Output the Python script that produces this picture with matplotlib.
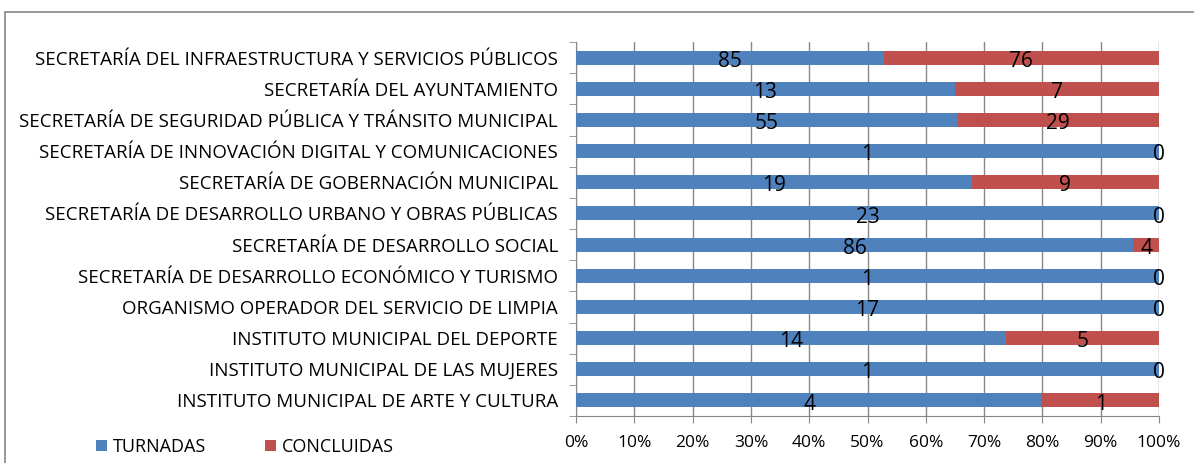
import matplotlib.pyplot as plt
import numpy as np
from matplotlib.ticker import PercentFormatter
from matplotlib import font_manager

# fuente parecida a Calibri
names = {f.name for f in font_manager.fontManager.ttflist}
fam = 'Liberation Sans Narrow' if 'Liberation Sans Narrow' in names else 'Open Sans'
plt.rcParams['font.family'] = [fam, 'DejaVu Sans']

categorias = [
    'SECRETARÍA DEL INFRAESTRUCTURA Y SERVICIOS PÚBLICOS',
    'SECRETARÍA DEL AYUNTAMIENTO',
    'SECRETARÍA DE SEGURIDAD PÚBLICA Y TRÁNSITO MUNICIPAL',
    'SECRETARÍA DE INNOVACIÓN DIGITAL Y COMUNICACIONES',
    'SECRETARÍA DE GOBERNACIÓN MUNICIPAL',
    'SECRETARÍA DE DESARROLLO URBANO Y OBRAS PÚBLICAS',
    'SECRETARÍA DE DESARROLLO SOCIAL',
    'SECRETARÍA DE DESARROLLO ECONÓMICO Y TURISMO',
    'ORGANISMO OPERADOR DEL SERVICIO DE LIMPIA',
    'INSTITUTO MUNICIPAL DEL DEPORTE',
    'INSTITUTO MUNICIPAL DE LAS MUJERES',
    'INSTITUTO MUNICIPAL DE ARTE Y CULTURA',
]
turnadas = [85, 13, 55, 1, 19, 23, 86, 1, 17, 14, 1, 4]
concluidas = [76, 7, 29, 0, 9, 0, 4, 0, 0, 5, 0, 1]

azul = '#4F81BD'
rojo = '#C0504D'

t = np.array(turnadas, dtype=float)
c = np.array(concluidas, dtype=float)
tot = t + c
pt = t / tot
pc = c / tot
y = np.arange(len(categorias))[::-1]

fig = plt.figure(figsize=(11.94, 4.63), dpi=100)
ax = fig.add_axes([576 / 1194, 1 - 416 / 463, (1159 - 576) / 1194, (416 - 42) / 463])

ax.barh(y, pt, height=0.45, color=azul, label='TURNADAS', zorder=3)
ax.barh(y, pc, left=pt, height=0.45, color=rojo, label='CONCLUIDAS', zorder=3)

for yi, a, b, va, vb in zip(y, pt, pc, turnadas, concluidas):
    ax.text(a / 2, yi - 0.12, str(va), ha='center', va='center', fontsize=15, zorder=4)
    ax.text(a + b / 2, yi - 0.12, str(vb), ha='center', va='center', fontsize=15, zorder=4)

ax.set_xlim(0, 1)
ax.set_ylim(-0.5, len(categorias) - 0.5)
ax.set_xticks(np.arange(0, 1.01, 0.1))
ax.xaxis.set_major_formatter(PercentFormatter(1, decimals=0))
ax.set_yticks(y)
ax.set_yticklabels(categorias)
ax.set_yticks(np.arange(-0.5, len(categorias), 1), minor=True)
ax.tick_params(axis='y', which='major', length=0, pad=13, labelsize=13.5)
ax.tick_params(axis='y', which='minor', length=5, color='#888888', direction='out')
ax.tick_params(axis='x', length=5, color='#888888', labelsize=12.5, pad=9)
ax.grid(axis='x', color='#888888', linewidth=1, zorder=0)
for s in ['top', 'right']:
    ax.spines[s].set_visible(False)
ax.spines['left'].set_color('#888888')
ax.spines['bottom'].set_color('#888888')

fig.legend(loc='center left', bbox_to_anchor=(80 / 1194, 1 - 447 / 463), ncol=2, frameon=False,
           fontsize=13, handlelength=0.6, handleheight=0.6, columnspacing=3.3, handletextpad=0.3)

# borde del gráfico
fig.patches.append(plt.Rectangle((5 / 1194, -0.01), 1.2, 1 - 12 / 463 + 0.01,
                                 transform=fig.transFigure, fill=False,
                                 edgecolor='#888888', linewidth=1.2))

plt.savefig('out.png', dpi=100)
